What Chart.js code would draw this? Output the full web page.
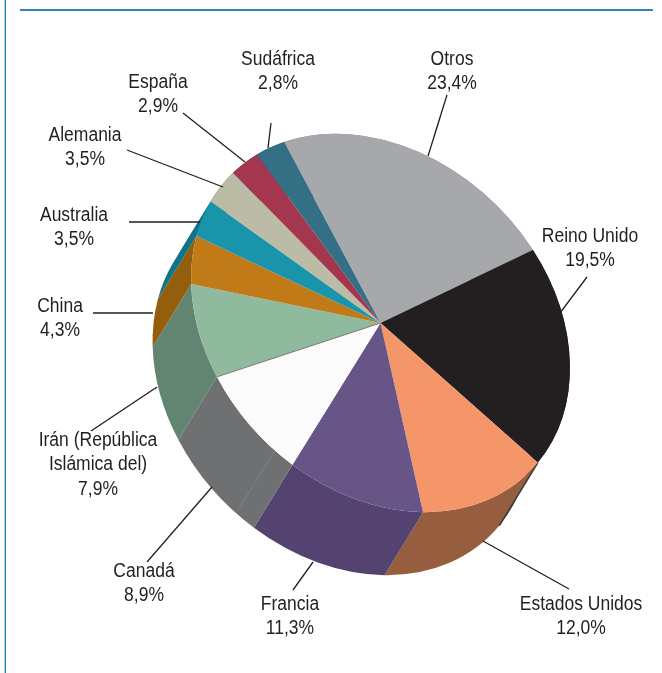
<!DOCTYPE html>
<html>
<head>
<meta charset="utf-8">
<style>
html,body{margin:0;padding:0;background:#fff;overflow:hidden}
#wrap{position:absolute;left:0;top:0;width:662px;height:673px}
#frameTop{position:absolute;left:20px;top:9px;width:633px;height:2px;background:#2f88ad}
#frameLeft{position:absolute;left:4px;top:0;width:1px;height:673px;background:#a9cfe0}
#frameLeft2{position:absolute;left:5px;top:0;width:1px;height:673px;background:#1f7fb0}
</style>
</head>
<body>
<div id="wrap">
<div id="frameTop"></div><div id="frameLeft"></div><div id="frameLeft2"></div>
<canvas id="c" width="662" height="673"></canvas>
</div>
<script src="https://cdn.jsdelivr.net/npm/chart.js@4"></script>
<script>
const categories = ["Otros","Reino Unido","Estados Unidos","Francia","Canadá","Irán (República Islámica del)","China","Australia","Alemania","España","Sudáfrica"];
const values = [23.4,19.5,12.0,11.3,8.9,7.9,4.3,3.5,3.5,2.9,2.8];
const valueLabels = ["23,4%","19,5%","12,0%","11,3%","8,9%","7,9%","4,3%","3,5%","3,5%","2,9%","2,8%"];
const topColors = ["#a7a8ac","#231f20","#f4966a","#685588","#fbfbfb","#8fba9d","#c07a17","#1a94ab","#bcbba6","#a43650","#336f85"];
const wallColors = ["#77787b","#3c3a3a","#975d3f","#544270","#6e7072","#618570","#945f0c","#0f7488","#0f7488","#0f7488","#0f7488"];
const labelLines = [["Otros"],["Reino Unido"],["Estados Unidos"],["Francia"],["Canadá"],["Irán (República","Islámica del)"],["China"],["Australia"],["Alemania"],["España"],["Sudáfrica"]];
const labelX = [452,590,581,290,144,98,60,74,85,158,278];
const labelY = [59,236,604,604,571,440,306,215,135,82,59];
const leaders = [[447,95,428,156],[587,277,560,313],[483,541,569,589],[313,562,293,590],[212,487,147,562],[157,387,91,431],[93,313,153,313],[129,222,200,222],[127,150,223,187],[183,113,245,162],[271,123,268,148]];
const seams = [[275,450,237,512,"#7f8184"],[370,507,335,567,"#513f6d"]];

const centre = {x:380.5,y:323};
const axisA = {x:-96.5,y:-181};
const axisB = {x:163,y:-55};
const depth = {x:-38.5,y:63};

function applyTilt(ctx, el){
  const R = el.outerRadius;
  const A = axisB.x/R, B = axisB.y/R, C = -axisA.x/R, D = -axisA.y/R;
  ctx.transform(A,B,C,D, centre.x-(A*el.x+C*el.y), centre.y-(B*el.x+D*el.y));
  return {A,B,C,D};
}
const tiltPlugin = {
  id:'tilt',
  beforeDatasetsDraw(chart){
    const ctx = chart.ctx, arcs = chart.getDatasetMeta(0).data;
    ctx.save();
    const m = applyTilt(ctx, arcs[0]);
    const det = m.A*m.D-m.B*m.C;
    const dx = ( m.D*depth.x - m.C*depth.y)/det;
    const dy = (-m.B*depth.x + m.A*depth.y)/det;
    arcs.forEach((el,i)=>{
      ctx.beginPath();
      ctx.arc(el.x,el.y,el.outerRadius,el.startAngle,el.endAngle);
      ctx.arc(el.x+dx,el.y+dy,el.outerRadius,el.endAngle,el.startAngle,true);
      ctx.closePath();
      ctx.fillStyle = wallColors[i];
      ctx.fill();
    });
    const e = arcs[1];
    const px = e.x+e.outerRadius*Math.cos(e.endAngle), py = e.y+e.outerRadius*Math.sin(e.endAngle);
    ctx.beginPath();
    ctx.moveTo(px,py);
    ctx.lineTo(px+dx,py+dy);
    ctx.restore();
    ctx.strokeStyle='#3c3a3a';ctx.lineWidth=1.5;ctx.stroke();
    ctx.save();
    ctx.lineWidth=1;
    seams.forEach(s=>{ctx.strokeStyle=s[4];ctx.beginPath();ctx.moveTo(s[0],s[1]);ctx.lineTo(s[2],s[3]);ctx.stroke();});
    ctx.restore();
    ctx.save();
    applyTilt(ctx, arcs[0]);
  },
  afterDatasetsDraw(chart){
    const ctx = chart.ctx, arcs = chart.getDatasetMeta(0).data;
    const el = arcs[5];
    ctx.beginPath();
    ctx.moveTo(el.x,el.y);
    ctx.lineTo(el.x+el.outerRadius*Math.cos(el.startAngle),el.y+el.outerRadius*Math.sin(el.startAngle));
    ctx.restore();
    ctx.strokeStyle='#77797b';ctx.lineWidth=1;ctx.stroke();
  },
  afterDraw(chart){
    const ctx = chart.ctx;
    ctx.save();
    ctx.strokeStyle='#231f20';ctx.lineWidth=1.3;
    leaders.forEach(l=>{ctx.beginPath();ctx.moveTo(l[0],l[1]);ctx.lineTo(l[2],l[3]);ctx.stroke();});
    ctx.fillStyle='#231f20';
    ctx.font='20px "Liberation Sans",sans-serif';
    ctx.textAlign='center';ctx.textBaseline='middle';
    categories.forEach((c,i)=>{
      const lines = labelLines[i].concat([valueLabels[i]]);
      lines.forEach((t,j)=>{
        ctx.save();
        ctx.translate(labelX[i],labelY[i]+j*24.7);
        ctx.scale(0.875,1);
        ctx.fillText(t,0,0);
        ctx.restore();
      });
    });
    ctx.restore();
  }
};
new Chart(document.getElementById('c'),{
  type:'pie',
  data:{labels:categories,datasets:[{data:values,backgroundColor:topColors,borderWidth:0}]},
  options:{responsive:false,animation:false,rotation:0,
    plugins:{legend:{display:false},tooltip:{enabled:false},title:{display:false}},
    layout:{padding:0}},
  plugins:[tiltPlugin]
});
</script>
</body>
</html>
